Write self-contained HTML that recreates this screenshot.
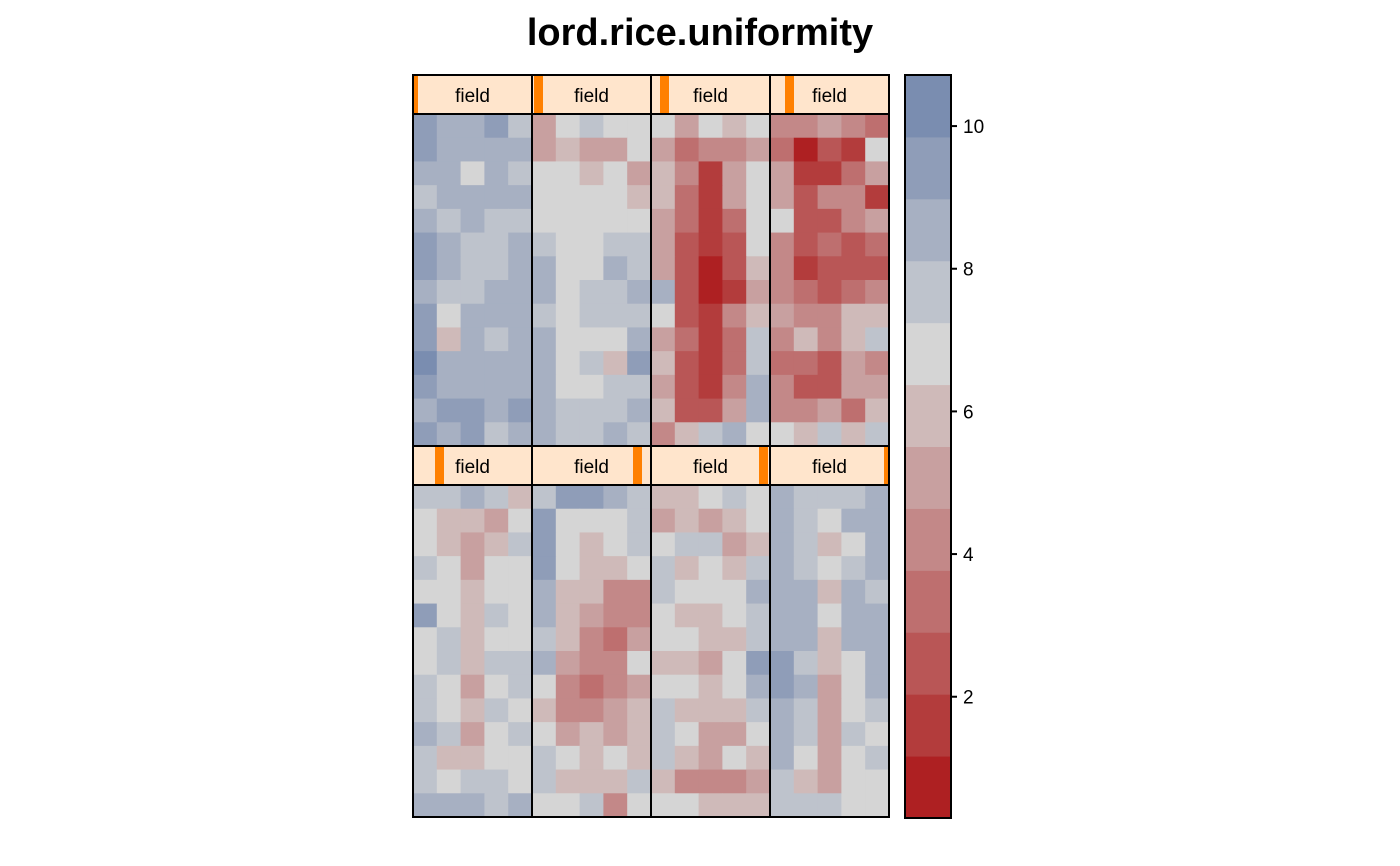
<!DOCTYPE html>
<html><head><meta charset="utf-8"><style>
html,body{margin:0;padding:0;background:#fff;}
svg{display:block;font-family:"Liberation Sans",Arial,sans-serif;}
</style></head><body>
<svg id="chart" width="1400" height="866" viewBox="0 0 1400 866">
<text x="700" y="45" text-anchor="middle" font-size="38" font-weight="bold">lord.rice.uniformity</text>
</svg>
<script>
const breaks = [0.30,1.168,2.036,2.904,3.772,4.64,5.508,6.376,7.244,8.112,8.98,9.848,10.716];
const colors = ["#AE2022","#B33C3C","#B95656","#BE6F6F","#C38888","#C8A0A0","#CFBAB9","#D5D5D5","#BEC3CC","#A7B0C2","#8F9DB8","#7A8DB0"];
const tickValues = [2,4,6,8,10];
const tickLabels = ["2","4","6","8","10"];
const stripLabel = "field";
const p1 = [[9.4,8.6,8.6,9.4,7.7],[9.4,8.6,8.6,8.6,8.6],[8.6,8.6,6.8,8.6,7.7],[7.7,8.6,8.6,8.6,8.6],[8.6,7.7,8.6,7.7,7.7],[9.4,8.6,7.7,7.7,8.6],[9.4,8.6,7.7,7.7,8.6],[8.6,7.7,7.7,8.6,8.6],[9.4,6.8,8.6,8.6,8.6],[9.4,5.9,8.6,7.7,8.6],[10.3,8.6,8.6,8.6,8.6],[9.4,8.6,8.6,8.6,8.6],[8.6,9.4,9.4,8.6,9.4],[9.4,8.6,9.4,7.7,8.6]];
const p2 = [[5.1,6.8,7.7,6.8,6.8],[5.1,5.9,5.1,5.1,6.8],[6.8,6.8,5.9,6.8,5.1],[6.8,6.8,6.8,6.8,5.9],[6.8,6.8,6.8,6.8,6.8],[7.7,6.8,6.8,7.7,7.7],[8.6,6.8,6.8,8.6,7.7],[8.6,6.8,7.7,7.7,8.6],[7.7,6.8,7.7,7.7,7.7],[8.6,6.8,6.8,6.8,8.6],[8.6,6.8,7.7,5.9,9.4],[8.6,6.8,6.8,7.7,7.7],[8.6,7.7,7.7,7.7,8.6],[8.6,7.7,7.7,8.6,7.7]];
const p3 = [[6.8,5.1,6.8,5.9,6.8],[5.1,3.3,4.2,4.2,5.1],[5.9,4.2,1.6,5.1,6.8],[5.9,3.3,1.6,5.1,6.8],[5.1,3.3,1.6,3.3,6.8],[5.1,2.5,1.6,2.5,6.8],[5.1,2.5,0.7,2.5,5.9],[8.6,2.5,0.7,1.6,5.1],[6.8,2.5,1.6,4.2,5.9],[5.1,3.3,1.6,3.3,7.7],[5.9,2.5,1.6,3.3,7.7],[5.1,2.5,1.6,4.2,8.6],[5.9,2.5,2.5,5.1,8.6],[4.2,5.9,7.7,8.6,6.8]];
const p4 = [[4.2,4.2,5.1,4.2,3.3],[3.3,0.7,2.5,1.6,6.8],[5.1,1.6,1.6,3.3,5.1],[5.1,2.5,4.2,4.2,1.6],[6.8,2.5,2.5,4.2,5.1],[4.2,2.5,3.3,2.5,3.3],[4.2,1.6,2.5,2.5,2.5],[4.2,3.3,2.5,3.3,4.2],[5.1,4.2,4.2,5.9,5.9],[4.2,5.9,4.2,5.9,7.7],[3.3,3.3,2.5,5.1,4.2],[4.2,2.5,2.5,5.1,5.1],[4.2,4.2,5.1,3.3,5.9],[6.8,5.9,7.7,5.9,7.7]];
const p5 = [[7.7,7.7,8.6,7.7,5.9],[6.8,5.9,5.9,5.1,6.8],[6.8,5.9,5.1,5.9,7.7],[7.7,6.8,5.1,6.8,6.8],[6.8,6.8,5.9,6.8,6.8],[9.4,6.8,5.9,7.7,6.8],[6.8,7.7,5.9,6.8,6.8],[6.8,7.7,5.9,7.7,7.7],[7.7,6.8,5.1,6.8,7.7],[7.7,6.8,5.9,7.7,6.8],[8.6,7.7,5.1,6.8,7.7],[7.7,5.9,5.9,6.8,6.8],[7.7,6.8,7.7,7.7,6.8],[8.6,8.6,8.6,7.7,8.6]];
const p6 = [[7.7,9.4,9.4,8.6,7.7],[9.4,6.8,6.8,6.8,7.7],[9.4,6.8,5.9,6.8,7.7],[9.4,6.8,5.9,5.9,6.8],[8.6,5.9,5.9,4.2,4.2],[8.6,5.9,5.1,4.2,4.2],[7.7,5.9,4.2,3.3,5.1],[8.6,5.1,4.2,4.2,6.8],[6.8,4.2,3.3,4.2,5.1],[5.9,4.2,4.2,5.1,5.9],[6.8,5.1,5.9,5.1,5.9],[7.7,6.8,5.9,6.8,5.9],[7.7,5.9,5.9,5.9,7.7],[6.8,6.8,7.7,4.2,6.8]];
const p7 = [[5.9,5.9,6.8,7.7,6.8],[5.1,5.9,5.1,5.9,6.8],[6.8,7.7,7.7,5.1,5.9],[7.7,5.9,6.8,5.9,7.7],[7.7,6.8,6.8,6.8,8.6],[6.8,5.9,5.9,6.8,7.7],[6.8,6.8,5.9,5.9,7.7],[5.9,5.9,5.1,6.8,9.4],[6.8,6.8,5.9,6.8,8.6],[7.7,5.9,5.9,5.9,7.7],[7.7,6.8,5.1,5.1,6.8],[7.7,5.9,5.1,6.8,5.9],[5.9,4.2,4.2,4.2,5.1],[6.8,6.8,5.9,5.9,5.9]];
const p8 = [[8.6,7.7,7.7,7.7,8.6],[8.6,7.7,6.8,8.6,8.6],[8.6,7.7,5.9,6.8,8.6],[8.6,7.7,6.8,7.7,8.6],[8.6,8.6,5.9,8.6,7.7],[8.6,8.6,6.8,8.6,8.6],[8.6,8.6,5.9,8.6,8.6],[9.4,7.7,5.9,6.8,8.6],[9.4,8.6,5.1,6.8,8.6],[8.6,7.7,5.1,6.8,7.7],[8.6,7.7,5.1,7.7,6.8],[8.6,6.8,5.1,6.8,7.7],[7.7,5.9,5.1,6.8,6.8],[7.7,7.7,7.7,6.8,6.8]];
const panels = [p1,p2,p3,p4,p5,p6,p7,p8];

const NS = "http://www.w3.org/2000/svg";
const svg = document.getElementById("chart");
function mk(tag, attrs, parent){ const e=document.createElementNS(NS,tag); for(const k in attrs) e.setAttribute(k,attrs[k]); (parent||svg).appendChild(e); return e; }
function colorFor(v){ for(let i=0;i<colors.length;i++){ if(v<breaks[i+1]) return colors[i]; } return colors[colors.length-1]; }

const colX = [413,532,651,770], panelW = 119;
const rowStripY = [75,446], stripH = 39, panelH = 332;
const indicatorX = [[414,534,660,785],[435,633,759,884]];
const indicatorW = [[4,9,9,9],[9,9,9,5]];
for(let p=0;p<8;p++){
  const r=Math.floor(p/4), c=p%4, data=panels[p];
  const x0=colX[c], sy=rowStripY[r], py=sy+stripH;
  const g=mk("g",{});
  
  
  const strip=mk("rect",{x:x0,y:sy,width:panelW,height:stripH,fill:"#FFE5CC"},g);
  
  
  const ind=mk("rect",{x:indicatorX[r][c],y:sy,width:indicatorW[r][c],height:stripH,fill:"#FF8000"},g);
  
  
  const st=mk("text",{x:x0+panelW/2,y:sy+27,"text-anchor":"middle","font-size":"19"},g);
  st.textContent=stripLabel;
  
  
  const nr=data.length, nc=data[0].length, cw=panelW/nc, ch=panelH/nr;
  for(let i=0;i<nr;i++) for(let j=0;j<nc;j++){
    const cell=mk("rect",{x:x0+j*cw,y:py+i*ch,width:cw+0.5,height:ch+0.5,fill:colorFor(data[i][j])},g);
    
    
  }
  mk("rect",{x:x0,y:sy,width:panelW,height:stripH,fill:"none",stroke:"#000","stroke-width":2},g);
  mk("rect",{x:x0,y:py,width:panelW,height:panelH,fill:"none",stroke:"#000","stroke-width":2},g);
}
const cbX=905, cbW=46, cbTop=75, cbBot=818;
const vMin=breaks[0], vMax=breaks[breaks.length-1];
function yScale(v){ return cbBot-(v-vMin)/(vMax-vMin)*(cbBot-cbTop); }
const cb=mk("g",{});


for(let i=0;i<colors.length;i++){
  const y1=yScale(breaks[i+1]), y2=yScale(breaks[i]);
  const r=mk("rect",{x:cbX,y:y1,width:cbW,height:y2-y1+0.5,fill:colors[i]},cb);
  
  
}
mk("rect",{x:cbX,y:cbTop,width:cbW,height:cbBot-cbTop,fill:"none",stroke:"#000","stroke-width":2},cb);
for(let i=0;i<tickValues.length;i++){
  const y=yScale(tickValues[i]);
  const t=mk("line",{x1:cbX+cbW,x2:cbX+cbW+6,y1:y,y2:y,stroke:"#000","stroke-width":2},cb);
  
  
  const l=mk("text",{x:cbX+cbW+12,y:y+7,"font-size":"19"},cb);
  l.textContent=tickLabels[i];
  
  
}
</script>
</body></html>
